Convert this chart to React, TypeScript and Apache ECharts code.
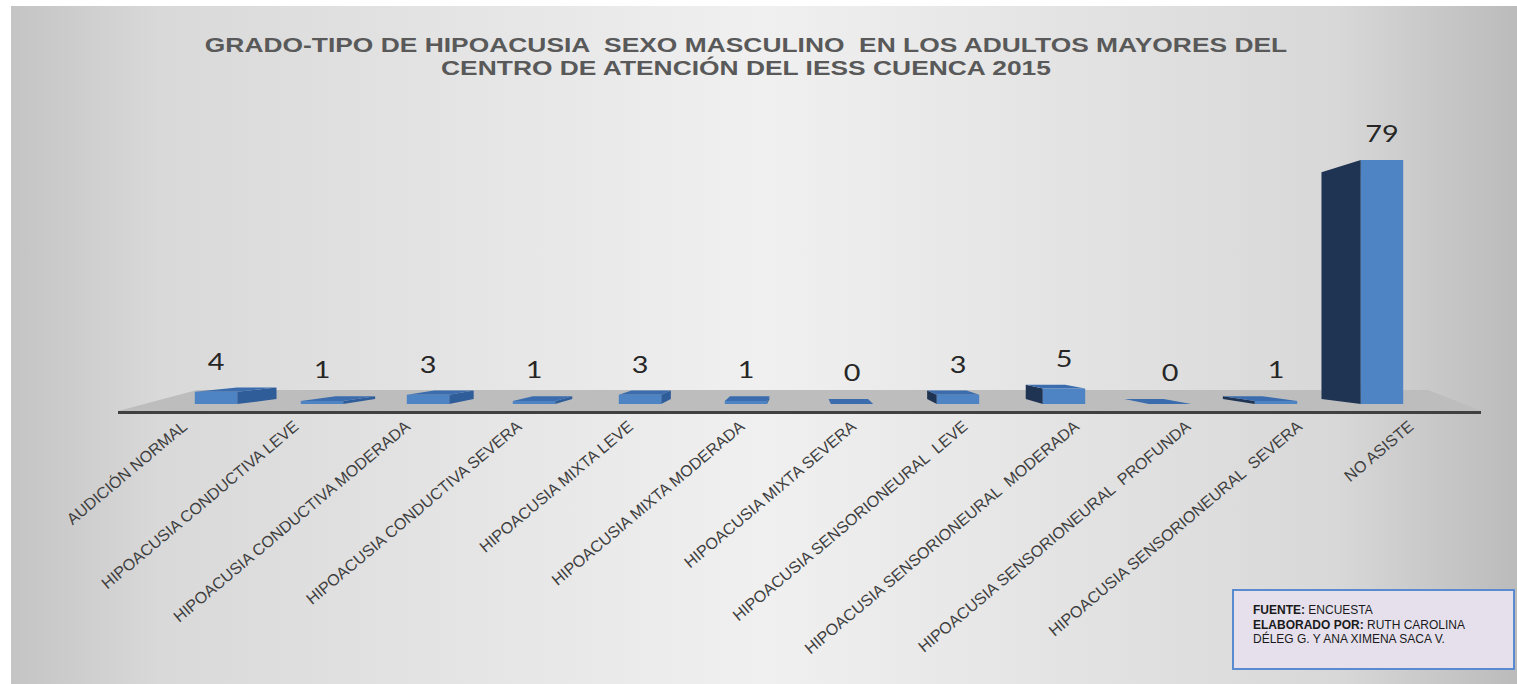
import React, { useEffect, useRef } from "react";
import * as echarts from "echarts";

const categories = [
  "AUDICIÓN NORMAL",
  "HIPOACUSIA CONDUCTIVA LEVE",
  "HIPOACUSIA CONDUCTIVA MODERADA",
  "HIPOACUSIA CONDUCTIVA SEVERA",
  "HIPOACUSIA MIXTA LEVE",
  "HIPOACUSIA MIXTA MODERADA",
  "HIPOACUSIA MIXTA SEVERA",
  "HIPOACUSIA SENSORIONEURAL  LEVE",
  "HIPOACUSIA SENSORIONEURAL  MODERADA",
  "HIPOACUSIA SENSORIONEURAL  PROFUNDA",
  "HIPOACUSIA SENSORIONEURAL  SEVERA",
  "NO ASISTE",
];
const values = [4, 1, 3, 1, 3, 1, 0, 3, 5, 0, 1, 79];

const titleLines = [
  "GRADO-TIPO DE HIPOACUSIA  SEXO MASCULINO  EN LOS ADULTOS MAYORES DEL",
  "CENTRO DE ATENCIÓN DEL IESS CUENCA 2015",
];
const sourceText =
  "{b|FUENTE:} ENCUESTA\n{b|ELABORADO POR:} RUTH CAROLINA\nDÉLEG G. Y ANA XIMENA SACA V.";

export default function App() {
  const ref = useRef<HTMLDivElement>(null);
  useEffect(() => {
    if (!ref.current) return;
    const chart = echarts.init(ref.current, null, { renderer: "svg" });
    const FRONT = "#4f84c4";
    const TOP = "#3a6cae";
    const RIGHT_SIDE = "#2f5d99";
    const LEFT_SIDE = "#1f3352";
    const K = 0.93;

    const renderItem = (params: any, api: any) => {
      const i = api.value(0);
      const v = api.value(1);
      const base = api.coord([i, 0]);
      const top = api.coord([i, v]);
      const bw = api.size([1, 0])[0];
      const w = bw * 0.4;
      const first = api.coord([0, 0])[0];
      const last = api.coord([categories.length - 1, 0])[0];
      const vx = (first + last) / 2;
      const vy = base[1] - 70;
      const bx = (x: number) => vx + (x - vx) * K;
      const by = (y: number) => vy + (y - vy) * K;
      const x0 = base[0] - w / 2;
      const x1 = base[0] + w / 2;
      const yB = base[1];
      const yT = top[1];
      const children: any[] = [];
      if (bx(x1) > x1) {
        children.push({
          type: "polygon",
          shape: { points: [[x1, yT], [bx(x1), by(yT)], [bx(x1), by(yB)], [x1, yB]] },
          style: { fill: RIGHT_SIDE },
        });
      }
      if (bx(x0) < x0) {
        children.push({
          type: "polygon",
          shape: { points: [[x0, yT], [bx(x0), by(yT)], [bx(x0), by(yB)], [x0, yB]] },
          style: { fill: LEFT_SIDE },
        });
      }
      if (by(yT) < yT) {
        children.push({
          type: "polygon",
          shape: { points: [[x0, yT], [x1, yT], [bx(x1), by(yT)], [bx(x0), by(yT)]] },
          style: { fill: TOP },
        });
      }
      children.push({
        type: "polygon",
        shape: { points: [[x0, yT], [x1, yT], [x1, yB], [x0, yB]] },
        style: { fill: FRONT },
      });
      const labelBottom = Math.min(yT, by(yT)) - 15;
      children.push({
        type: "text",
        x: base[0],
        y: labelBottom,
        scaleX: 1.2,
        style: {
          text: String(v),
          fill: "#262626",
          fontSize: 24,
          fontFamily: "Lato",
          align: "center",
          verticalAlign: "bottom",
          textAlign: "center",
          textVerticalAlign: "bottom",
        },
      });
      return { type: "group", children };
    };

    chart.setOption({
      animation: false,
      grid: [
        { left: 163, right: 82, top: 157, bottom: 280 },
        { left: 129, right: 50, top: 157, bottom: 268 },
      ],
      xAxis: [
        {
          type: "category",
          gridIndex: 0,
          data: categories,
          axisLine: { show: false },
          axisTick: { show: false },
          axisLabel: { show: false },
        },
        {
          type: "category",
          gridIndex: 1,
          data: categories,
          axisLine: { show: false },
          axisTick: { show: false },
          axisLabel: {
            interval: 0,
            rotate: 40,
            margin: 8,
            fontSize: 16,
            fontFamily: "Liberation Sans",
            color: "#3f3f3f",
          },
        },
      ],
      yAxis: [
        { type: "value", gridIndex: 0, min: 0, max: 80, show: false },
        { type: "value", gridIndex: 1, min: 0, max: 1, show: false },
      ],
      graphic: [
        {
          type: "rect",
          z: -10,
          shape: { x: 11, y: 6, width: 1506, height: 678 },
          style: {
            fill: new echarts.graphic.LinearGradient(0, 0, 1, 0, [
              { offset: 0, color: "#c4c4c4" },
              { offset: 0.1, color: "#d9d9d9" },
              { offset: 0.5, color: "#f0f0f0" },
              { offset: 0.88, color: "#d8d8d8" },
              { offset: 1, color: "#bbbbbb" },
            ]),
          },
        },
        {
          type: "polygon",
          z: 0,
          shape: { points: [[118, 411], [1482, 411], [1428, 390], [197, 390]] },
          style: { fill: "#bdbdbd" },
        },
        {
          type: "line",
          z: 1,
          shape: { x1: 118, y1: 412.5, x2: 1481, y2: 412.5 },
          style: { stroke: "#404040", lineWidth: 3 },
        },
        {
          type: "text",
          z: 10,
          x: 746,
          y: 34,
          scaleX: 1.32,
          style: {
            text: titleLines.join("\n"),
            fontSize: 20,
            fontWeight: "bold",
            fontFamily: "Liberation Sans",
            fill: "#595959",
            lineHeight: 23,
            align: "center",
            textAlign: "center",
          },
        },
        {
          type: "rect",
          z: 10,
          shape: { x: 1233, y: 590, width: 281, height: 79 },
          style: { fill: "#e5e0ec", stroke: "#5a8ad0", lineWidth: 2 },
        },
        {
          type: "text",
          z: 11,
          x: 1253,
          y: 603,
          style: {
            text: sourceText,
            fontSize: 12,
            fontFamily: "Liberation Sans",
            fill: "#1a1a1a",
            lineHeight: 14.5,
            rich: {
              b: {
                fontSize: 12,
                fontFamily: "Liberation Sans",
                fontWeight: "bold",
                fill: "#1a1a1a",
                lineHeight: 14.5,
              },
            },
          },
        },
      ],
      series: [
        {
          type: "custom",
          xAxisIndex: 0,
          yAxisIndex: 0,
          z: 5,
          renderItem,
          data: values.map((v, i) => [i, v]),
        },
      ],
    });
    return () => chart.dispose();
  }, []);
  return (
    <div
      ref={ref}
      style={{ position: "absolute", left: 0, top: 0, width: 1517, height: 684 }}
    />
  );
}
